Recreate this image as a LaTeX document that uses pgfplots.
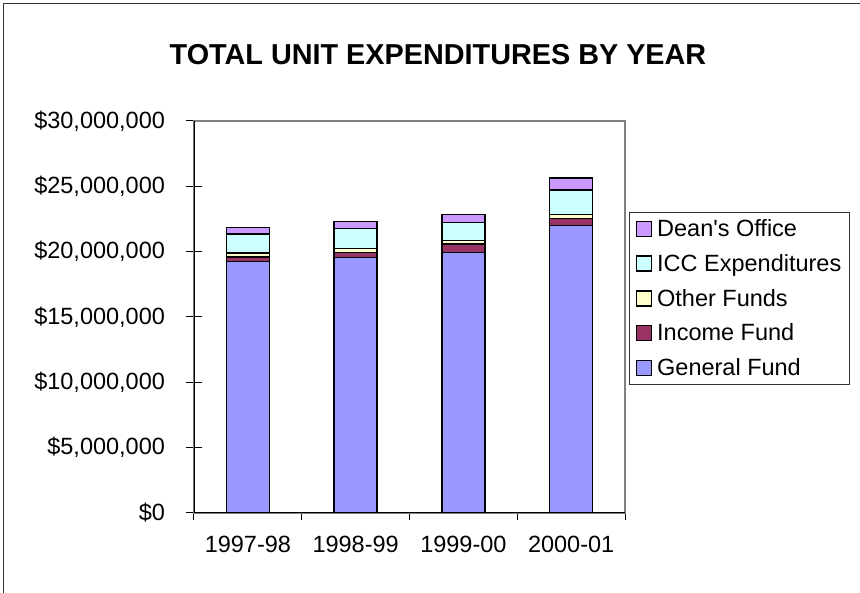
\documentclass[border=0pt]{standalone}
\usepackage{fontspec}
\setmainfont{Liberation Sans}[Ligatures=TeXOff]
\usepackage{pgfplots}
\pgfplotsset{compat=1.18}
\definecolor{genf}{HTML}{9999FF}
\definecolor{incf}{HTML}{993366}
\definecolor{othf}{HTML}{FFFFCC}
\definecolor{iccf}{HTML}{CCFFFF}
\definecolor{deanf}{HTML}{CC99FF}
\begin{document}
\begin{tikzpicture}[x=1pt,y=1pt]
\useasboundingbox (0,0) rectangle (860,593);
\draw[line width=1.3pt, black!80] (3.5,-2) -- (3.5,589.5) -- (862,589.5);
\node[anchor=base, font=\fontsize{28.8}{34}\selectfont\bfseries] at (438,528.7) {TOTAL UNIT EXPENDITURES BY YEAR};
\begin{axis}[
  at={(194pt,80pt)}, anchor=south west,
  scale only axis, width=431pt, height=392pt,
  ybar stacked, bar width=43pt,
  xmin=0.5, xmax=4.5, ymin=0, ymax=30000000,
  xtick={1,2,3,4},
  xticklabels={1997-98,1998-99,1999-00,2000-01},
  minor xtick={0.5,1.5,2.5,3.5,4.5},
  ytick={0,5000000,10000000,15000000,20000000,25000000,30000000},
  yticklabels={{\$0},{\$5,000,000},{\$10,000,000},{\$15,000,000},{\$20,000,000},{\$25,000,000},{\$30,000,000}},
  scaled y ticks=false,
  tick pos=left,
  xtick align=outside,
  ytick align=center,
  major tick length=15pt,
  minor tick length=7pt,
  major x tick style={draw=none},
  tick style={black, line width=1pt},
  axis line style={draw=gray, line width=1.3pt},
  ticklabel style={font=\fontsize{23.5}{28}\selectfont},
  yticklabel style={anchor=east, xshift=-18pt},
  xticklabel style={anchor=north, yshift=-5pt},
  reverse legend,
  legend cell align=left,
  legend style={at={(1.0093,0.768)}, anchor=north west, draw=black!80, line width=1pt,
    font=\fontsize{23.5}{28}\selectfont, row sep=12.3pt, inner xsep=6pt, inner ysep=5pt},
  legend image code/.code={\path[draw=none,fill=none] (0pt,0pt) -- (19pt,0pt);\draw[#1,draw=black,line width=1.3pt] (0pt,-7.5pt) rectangle (15pt,7.5pt);},
  every axis plot/.append style={draw=black, line width=1.3pt},
]
\addplot[fill=genf] coordinates {(1,19240000) (2,19540000) (3,19950000) (4,22020000)};
\addlegendentry{General Fund}
\addplot[fill=incf] coordinates {(1,340000) (2,380000) (3,640000) (4,500000)};
\addlegendentry{Income Fund}
\addplot[fill=othf] coordinates {(1,310000) (2,310000) (3,250000) (4,340000)};
\addlegendentry{Other Funds}
\addplot[fill=iccf] coordinates {(1,1450000) (2,1560000) (3,1410000) (4,1860000)};
\addlegendentry{ICC Expenditures}
\addplot[fill=deanf] coordinates {(1,500000) (2,500000) (3,610000) (4,910000)};
\addlegendentry{Dean's Office}
\draw[black, line width=1.3pt] (rel axis cs:0,1) -- (rel axis cs:0,0) -- (rel axis cs:1,0);
\end{axis}
\end{tikzpicture}
\end{document}
